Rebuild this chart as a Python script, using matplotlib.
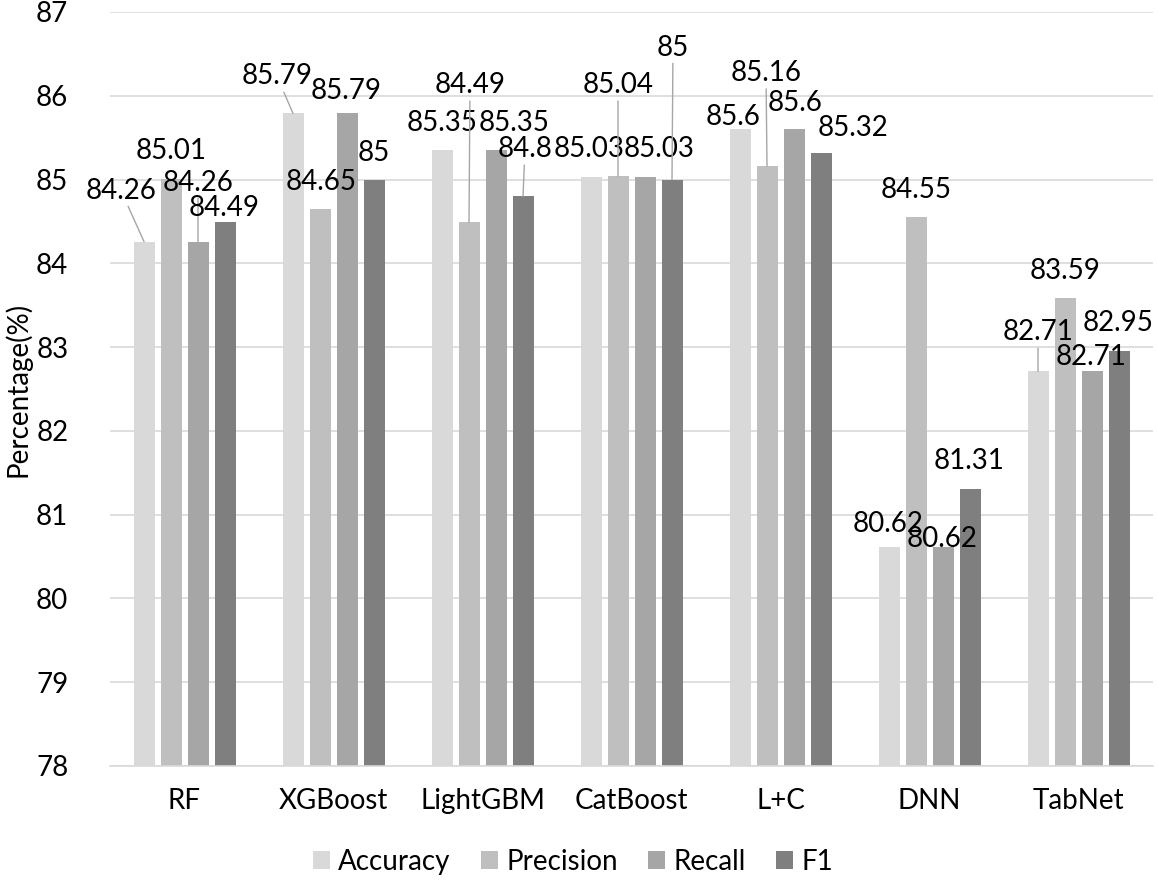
import matplotlib
matplotlib.use("Agg")
import matplotlib.pyplot as plt
import numpy as np

plt.rcParams['font.family'] = ['Lato', 'DejaVu Sans']

models = ["RF", "XGBoost", "LightGBM", "CatBoost", "L+C", "DNN", "TabNet"]
series_names = ["Accuracy", "Precision", "Recall", "F1"]
accuracy = [84.26, 85.79, 85.35, 85.03, 85.6, 80.62, 82.71]
precision = [85.01, 84.65, 84.49, 85.04, 85.16, 84.55, 83.59]
recall = [84.26, 85.79, 85.35, 85.03, 85.6, 80.62, 82.71]
f1 = [84.49, 85.0, 84.8, 85.0, 85.32, 81.31, 82.95]
yticks = [78, 79, 80, 81, 82, 83, 84, 85, 86, 87]

colors = ["#D9D9D9", "#BFBFBF", "#A6A6A6", "#7F7F7F"]

# label offsets in pixels (dx, dy) from the bar top, per series, per model
label_offsets = [
    [(-23, 51), (-16, 37), (0, 27), (-2, 28), (-7, 12), (-1, 23), (0, 39)],
    [(0, 28), (1, 27), (1, 137), (0, 91), (-1, 93), (0, 27), (0, 27)],
    [(0, 59), (-1, 22), (18, 27), (14, 28), (1, 26), (-1, 8), (-1, 14)],
    [(-1, 14), (0, 27), (2, 47), (1, 132), (32, 25), (-1, 28), (-1, 28)],
]
leaders = [
    [True, True, False, False, False, False, True],
    [False, False, True, True, True, False, False],
    [True, False, False, False, False, False, False],
    [False, False, True, True, False, False, False],
]

fig = plt.figure(figsize=(11.58, 8.83), dpi=100)
ax = fig.add_axes([110 / 1158, 1 - 766 / 883, 1043 / 1158, 754 / 883])

x = np.arange(len(models))
step = 27 / 149
width = 21 / 149
values = [accuracy, precision, recall, f1]
for s, (name, vals, col) in enumerate(zip(series_names, values, colors)):
    pos = x + (s - 1.5) * step
    ax.bar(pos, np.array(vals) - 78, bottom=78, width=width, color=col, label=name, zorder=2)
    for i, v in enumerate(vals):
        dx, dy = label_offsets[s][i]
        txt = f"{v:g}"
        if leaders[s][i]:
            ax.annotate(txt, xy=(pos[i], v), xytext=(dx, dy), textcoords='offset pixels',
                        ha='center', va='center', fontsize=20, color='black', zorder=4,
                        arrowprops=dict(arrowstyle='-', color='#A6A6A6', lw=1.0,
                                        shrinkA=0, shrinkB=0))
        else:
            ax.annotate(txt, xy=(pos[i], v), xytext=(dx, dy), textcoords='offset pixels',
                        ha='center', va='center', fontsize=20, color='black', zorder=4)

ax.set_xlim(-0.5, len(models) - 0.5)
ax.set_ylim(78, 87)
ax.set_yticks(yticks)
ax.set_yticklabels([str(t) for t in yticks])
ax.set_xticks(x)
ax.set_xticklabels(models)
ax.tick_params(axis='both', length=0, labelsize=20, colors='black')
ax.tick_params(axis='y', pad=30)
ax.tick_params(axis='x', pad=16)
ax.yaxis.grid(True, color='#D9D9D9', lw=1.2, zorder=0)
ax.set_axisbelow(True)
for sp in ['top', 'right', 'left']:
    ax.spines[sp].set_visible(False)
ax.spines['bottom'].set_color('#D9D9D9')
ax.spines['bottom'].set_linewidth(1.2)

fig.text(18 / 1158, 1 - 389 / 883, "Percentage(%)", rotation=90, ha='center', va='center',
         fontsize=20, color='black')

fig.legend(loc='center', bbox_to_anchor=(0.495, 1 - 862 / 883), ncol=4, frameon=False,
           fontsize=20, handlelength=0.6, handleheight=0.6, handletextpad=0.3,
           columnspacing=1.1)

fig.savefig("out.png", dpi=100)
